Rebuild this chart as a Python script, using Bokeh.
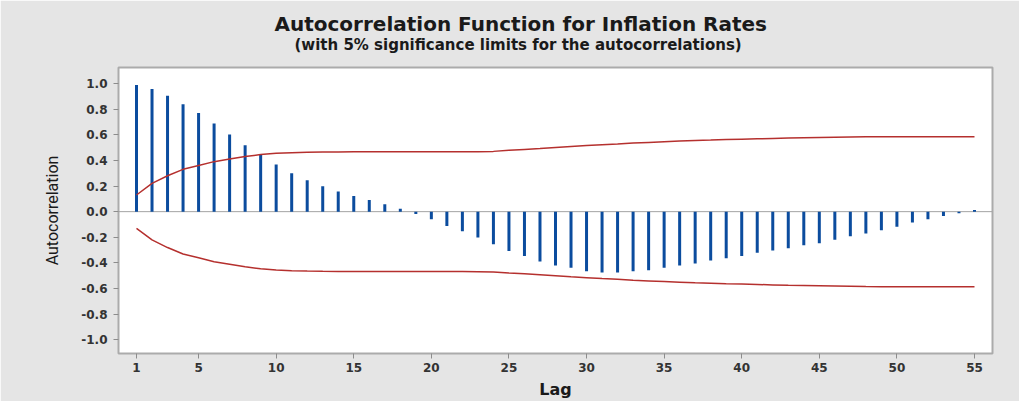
from bokeh.plotting import figure
from bokeh.models import Range1d, FixedTicker, Span, Title
from bokeh.embed import file_html
from bokeh.resources import INLINE

# ---- data ----
lags = list(range(1, 56))
acf = [0.987, 0.956, 0.904, 0.837, 0.769, 0.687, 0.601, 0.518, 0.448, 0.368,
       0.300, 0.244, 0.199, 0.158, 0.122, 0.091, 0.057, 0.023, -0.018, -0.060,
       -0.111, -0.153, -0.202, -0.254, -0.306, -0.345, -0.389, -0.420, -0.438, -0.464,
       -0.474, -0.474, -0.464, -0.456, -0.438, -0.420, -0.404, -0.381, -0.363, -0.345,
       -0.321, -0.303, -0.285, -0.262, -0.246, -0.220, -0.192, -0.171, -0.145, -0.117,
       -0.085, -0.060, -0.034, -0.013, 0.013]
upper_limit = [0.130, 0.220, 0.280, 0.330, 0.360, 0.390, 0.410, 0.430, 0.445, 0.455,
               0.460, 0.463, 0.465, 0.466, 0.467, 0.467, 0.467, 0.467, 0.467, 0.467,
               0.467, 0.467, 0.468, 0.470, 0.478, 0.485, 0.492, 0.500, 0.508, 0.515,
               0.522, 0.528, 0.535, 0.540, 0.545, 0.550, 0.555, 0.558, 0.562, 0.565,
               0.568, 0.571, 0.574, 0.576, 0.578, 0.580, 0.582, 0.584, 0.585, 0.585,
               0.585, 0.585, 0.585, 0.585, 0.585]
lower_limit = [-0.130, -0.220, -0.280, -0.330, -0.360, -0.390, -0.410, -0.430, -0.445, -0.455,
               -0.460, -0.463, -0.465, -0.466, -0.467, -0.467, -0.467, -0.467, -0.467, -0.467,
               -0.467, -0.467, -0.468, -0.470, -0.478, -0.485, -0.492, -0.500, -0.508, -0.515,
               -0.522, -0.528, -0.535, -0.540, -0.545, -0.550, -0.555, -0.558, -0.562, -0.565,
               -0.568, -0.571, -0.574, -0.576, -0.578, -0.580, -0.582, -0.584, -0.585, -0.585,
               -0.585, -0.585, -0.585, -0.585, -0.585]
baseline = [0.0] * len(lags)

x_ticks = [1, 5, 10, 15, 20, 25, 30, 35, 40, 45, 50, 55]
y_ticks = [-1.0, -0.8, -0.6, -0.4, -0.2, 0.0, 0.2, 0.4, 0.6, 0.8, 1.0]
y_tick_labels = ["-1.0", "-0.8", "-0.6", "-0.4", "-0.2", "0.0", "0.2", "0.4", "0.6", "0.8", "1.0"]

title_text = "Autocorrelation Function for Inflation Rates"
subtitle_text = "(with 5% significance limits for the autocorrelations)"

# ---- figure ----
p = figure(width=1019, height=401, output_backend="svg", toolbar_location=None,
           x_range=Range1d(-0.16, 56.16), y_range=Range1d(-1.106, 1.124),
           min_border_left=118, min_border_right=27, min_border_top=67, min_border_bottom=46)
p.title = None

BG = "#e5e5e5"
p.border_fill_color = BG
p.background_fill_color = "white"
p.outline_line_color = "#ababab"
p.outline_line_width = 2
p.xgrid.visible = False
p.ygrid.visible = False

# title stack (first added sits nearest the frame)
spacer = Title(text=" ", text_font_size="2px", standoff=8)
sub = Title(text=subtitle_text, align="left", offset=176, vertical_align="top",
            text_font="DejaVu Sans", text_font_size="15px", text_font_style="bold",
            text_color="#1a1a1a", standoff=0)
main = Title(text=title_text, align="left", offset=156,
             text_font="DejaVu Sans", text_font_size="20px", text_font_style="bold",
             text_color="#1a1a1a", standoff=0)
p.add_layout(spacer, "above")
p.add_layout(sub, "above")
p.add_layout(main, "above")

# zero reference line
p.add_layout(Span(location=0, dimension="width", line_color="#a3a3a3",
                  line_width=1, level="underlay"))

# ACF bars
p.segment(x0=lags, y0=baseline, x1=lags, y1=acf, line_width=3, line_color="#0b4c9e")

# significance limits
p.line(lags, upper_limit, line_color="#b5302e", line_width=1.5)
p.line(lags, lower_limit, line_color="#b5302e", line_width=1.5)

# axes
for ax in (p.xaxis[0], p.yaxis[0]):
    ax.axis_line_color = "#ababab"
    ax.axis_line_width = 1
    ax.major_tick_line_color = "#8c8c8c"
    ax.major_tick_in = 0
    ax.major_tick_out = 5
    ax.minor_tick_line_color = None
    ax.major_label_text_font = "DejaVu Sans"
    ax.major_label_text_font_style = "bold"
    ax.major_label_text_font_size = "12px"
    ax.major_label_text_color = "#333333"

p.xaxis.ticker = FixedTicker(ticks=x_ticks)
p.yaxis.ticker = FixedTicker(ticks=y_ticks)
p.yaxis.major_label_overrides = {t: lab for t, lab in zip(y_ticks, y_tick_labels)}
p.xaxis.major_label_standoff = 4
p.yaxis.major_label_standoff = 6

p.xaxis.axis_label = "Lag"
p.xaxis.axis_label_text_font = "DejaVu Sans"
p.xaxis.axis_label_text_font_style = "bold"
p.xaxis.axis_label_text_font_size = "16px"
p.xaxis.axis_label_text_color = "#1a1a1a"
p.xaxis.axis_label_standoff = 5

p.yaxis.axis_label = "Autocorrelation"
p.yaxis.axis_label_text_font = "Roboto"
p.yaxis.axis_label_text_font_style = "normal"
p.yaxis.axis_label_text_font_size = "16px"
p.yaxis.axis_label_text_color = "#1a1a1a"
p.yaxis.axis_label_standoff = 16

open("out.html", "w").write(file_html(p, INLINE))
